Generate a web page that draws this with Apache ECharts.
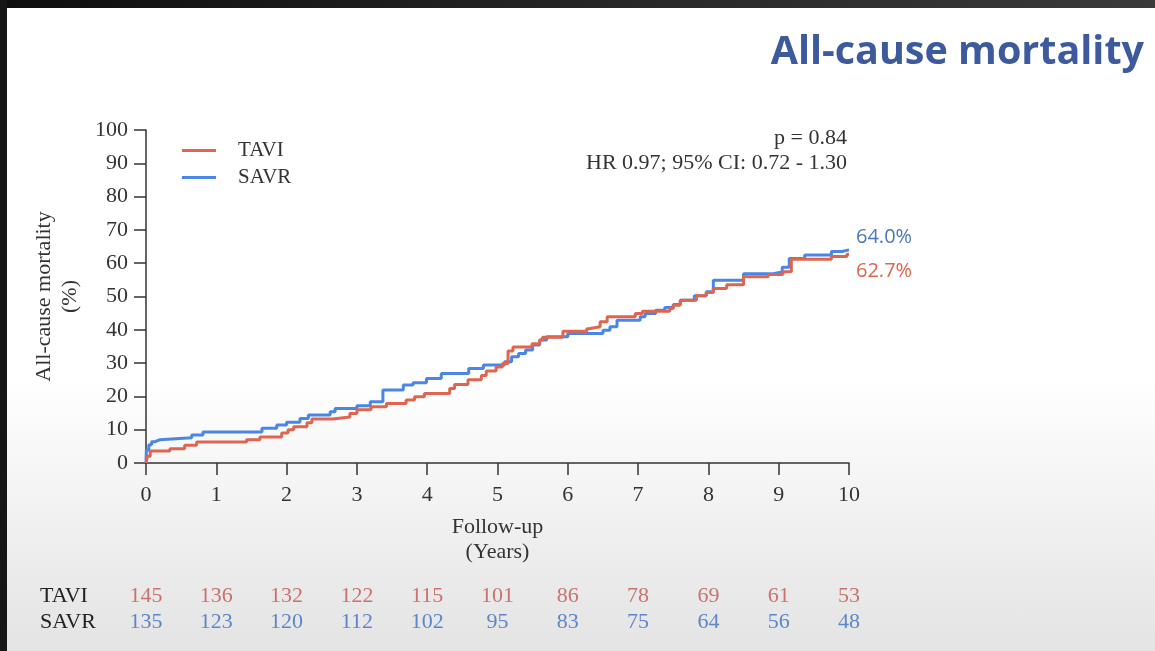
<!DOCTYPE html>
<html>
<head>
<meta charset="utf-8">
<script src="https://cdn.jsdelivr.net/npm/echarts@6/dist/echarts.min.js"></script>
<style>
html,body{margin:0;padding:0;background:#111;}
#wrap{position:relative;width:1155px;height:651px;overflow:hidden;
 background:linear-gradient(to bottom,#ffffff 0%,#ffffff 58%,#f6f6f6 72%,#ebebeb 88%,#e4e4e4 100%);}
#topbar{position:absolute;left:0;top:0;width:1155px;height:8px;background:linear-gradient(to right,#0e0e0e,#2a2a2a 60%,#3a3a3a);}
#leftbar{position:absolute;left:0;top:0;width:7px;height:651px;background:#161616;}
#chart{position:absolute;left:0;top:0;width:1155px;height:651px;}
</style>
</head>
<body>
<div id="wrap"><div id="chart"></div><div id="topbar"></div><div id="leftbar"></div></div>
<script>
// ---- data ----
const xTicks = [0,1,2,3,4,5,6,7,8,9,10];
const tavi = [[0,0],[0.02,2],[0.06,3.6],[0.34,4.3],[0.55,5.3],[0.72,6.3],[1.43,7.0],[1.62,7.8],[1.93,9.0],[2.02,10.0],[2.1,10.9],[2.29,12.1],[2.36,13.2],[2.66,13.8],[2.9,14.9],[3.0,16.0],[3.2,16.9],[3.42,17.9],[3.7,18.9],[3.82,19.9],[3.96,20.9],[4.32,22.4],[4.39,23.6],[4.58,25.0],[4.77,26.3],[4.84,27.6],[4.98,28.8],[5.07,29.9],[5.15,33.6],[5.22,34.8],[5.49,35.8],[5.6,36.9],[5.64,37.8],[5.93,39.6],[6.27,40.3],[6.3,40.9],[6.46,42.4],[6.56,43.9],[6.96,44.9],[7.06,45.6],[7.45,46.4],[7.5,47.4],[7.6,48.9],[7.83,50.2],[7.97,51.2],[8.07,52.4],[8.26,53.5],[8.5,55.9],[8.85,56.6],[9.06,57.4],[9.18,61.2],[9.75,62.0],[9.97,62.7],[10,62.7]];
const savr = [[0,0],[0.005,3.9],[0.04,5.5],[0.08,6.4],[0.13,7.0],[0.2,7.6],[0.65,8.4],[0.81,9.3],[1.65,10.4],[1.86,11.4],[2.0,12.2],[2.19,13.4],[2.31,14.4],[2.62,15.4],[2.69,16.4],[3.0,17.2],[3.19,18.4],[3.37,21.9],[3.66,23.4],[3.8,24.1],[3.99,25.4],[4.2,26.9],[4.59,28.4],[4.8,29.4],[5.1,30.4],[5.2,31.9],[5.3,32.9],[5.4,33.9],[5.5,35.4],[5.6,36.9],[5.7,37.9],[6.0,38.9],[6.5,39.9],[6.6,40.9],[6.7,42.9],[7.03,43.9],[7.1,44.9],[7.25,45.9],[7.38,46.7],[7.5,47.6],[7.6,48.9],[7.8,50.2],[7.97,51.4],[8.07,54.9],[8.5,56.8],[8.9,57.4],[9.05,58.8],[9.15,61.4],[9.37,62.5],[9.75,63.5],[9.9,64.0],[10,64.0]];
const taviAtRisk = [145,136,132,122,115,101,86,78,69,61,53];
const savrAtRisk = [135,123,120,112,102,95,83,75,64,56,48];
const stats = ['p = 0.84','HR 0.97; 95% CI: 0.72 - 1.30'];

const RED = '#de6650', BLUE = '#4a86e6';
const RED_T = '#c9736e', BLUE_T = '#5d86c8';
const SERIF = '"Liberation Serif","DejaVu Serif",serif';
const FS = 22;

const chart = echarts.init(document.getElementById('chart'), null, {renderer:'canvas'});
const riskAxis = (offset, arr, color) => ({
  type:'value', min:0, max:10, interval:1, position:'bottom', offset:offset, gridIndex:0,
  axisLine:{show:false}, axisTick:{show:false}, splitLine:{show:false},
  axisLabel:{formatter:v => arr[xTicks.indexOf(v)] ?? '', color:color, fontFamily:SERIF, fontSize:FS, margin:0}
});
chart.setOption({
  animation:false,
  backgroundColor:'transparent',
  title:{text:'All-cause mortality', right:6, top:28,
    textStyle:{fontFamily:'"Open Sans","Noto Sans",sans-serif', fontWeight:'bold', fontSize:39.5, color:'#3c5a9c'}},
  legend:{orient:'vertical', left:177, top:134, itemWidth:34, itemHeight:3, itemGap:4, icon:'rect',
    data:['TAVI','SAVR'], textStyle:{fontFamily:SERIF, fontSize:21, color:'#333', lineHeight:23, padding:[0,0,0,17]}},
  grid:{left:146, right:306, top:130, bottom:188, containLabel:false},
  xAxis:[{
    type:'value', min:0, max:10, interval:1,
    name:'Follow-up\n(Years)', nameLocation:'middle', nameGap:52,
    nameTextStyle:{fontFamily:SERIF, fontSize:FS, color:'#333', lineHeight:25},
    axisLine:{lineStyle:{color:'#333', width:1.5}},
    axisTick:{length:12, lineStyle:{color:'#333', width:1.5}},
    axisLabel:{fontFamily:SERIF, fontSize:FS, color:'#333', margin:21},
    splitLine:{show:false}
  }, riskAxis(122, taviAtRisk, RED_T), riskAxis(148, savrAtRisk, BLUE_T)],
  yAxis:{
    type:'value', min:0, max:100, interval:10,
    name:'All-cause mortality\n(%)', nameLocation:'middle', nameGap:63, nameRotate:90,
    nameTextStyle:{fontFamily:SERIF, fontSize:FS, color:'#333', lineHeight:26},
    axisLine:{show:true, lineStyle:{color:'#333', width:1.5}},
    axisTick:{show:true, length:12, lineStyle:{color:'#333', width:1.5}},
    axisLabel:{fontFamily:SERIF, fontSize:FS, color:'#333', margin:18},
    splitLine:{show:false}
  },
  series:[
    {name:'TAVI', type:'line', step:'end', data:tavi, showSymbol:false, color:RED,
     lineStyle:{width:3, color:RED}, z:3,
     endLabel:{show:true, formatter:p => p.value[1].toFixed(1)+'%', color:RED, offset:[-1,17],
       fontFamily:'"Open Sans","Noto Sans",sans-serif', fontSize:20}},
    {name:'SAVR', type:'line', step:'end', data:savr, showSymbol:false, color:BLUE,
     lineStyle:{width:3, color:BLUE}, z:2,
     endLabel:{show:true, formatter:p => p.value[1].toFixed(1)+'%', color:'#4a78bc', offset:[-1,-13],
       fontFamily:'"Open Sans","Noto Sans",sans-serif', fontSize:20}}
  ],
  graphic:[
    {type:'text', right:308, top:127, style:{text:stats[0], font:FS+'px '+SERIF, fill:'#333', textAlign:'right'}},
    {type:'text', right:308, top:152, style:{text:stats[1], font:FS+'px '+SERIF, fill:'#333', textAlign:'right'}},
    {type:'text', left:40, top:585, style:{text:'TAVI', font:FS+'px '+SERIF, fill:'#222'}},
    {type:'text', left:40, top:611, style:{text:'SAVR', font:FS+'px '+SERIF, fill:'#222'}}
  ]
});
</script>
</body>
</html>
